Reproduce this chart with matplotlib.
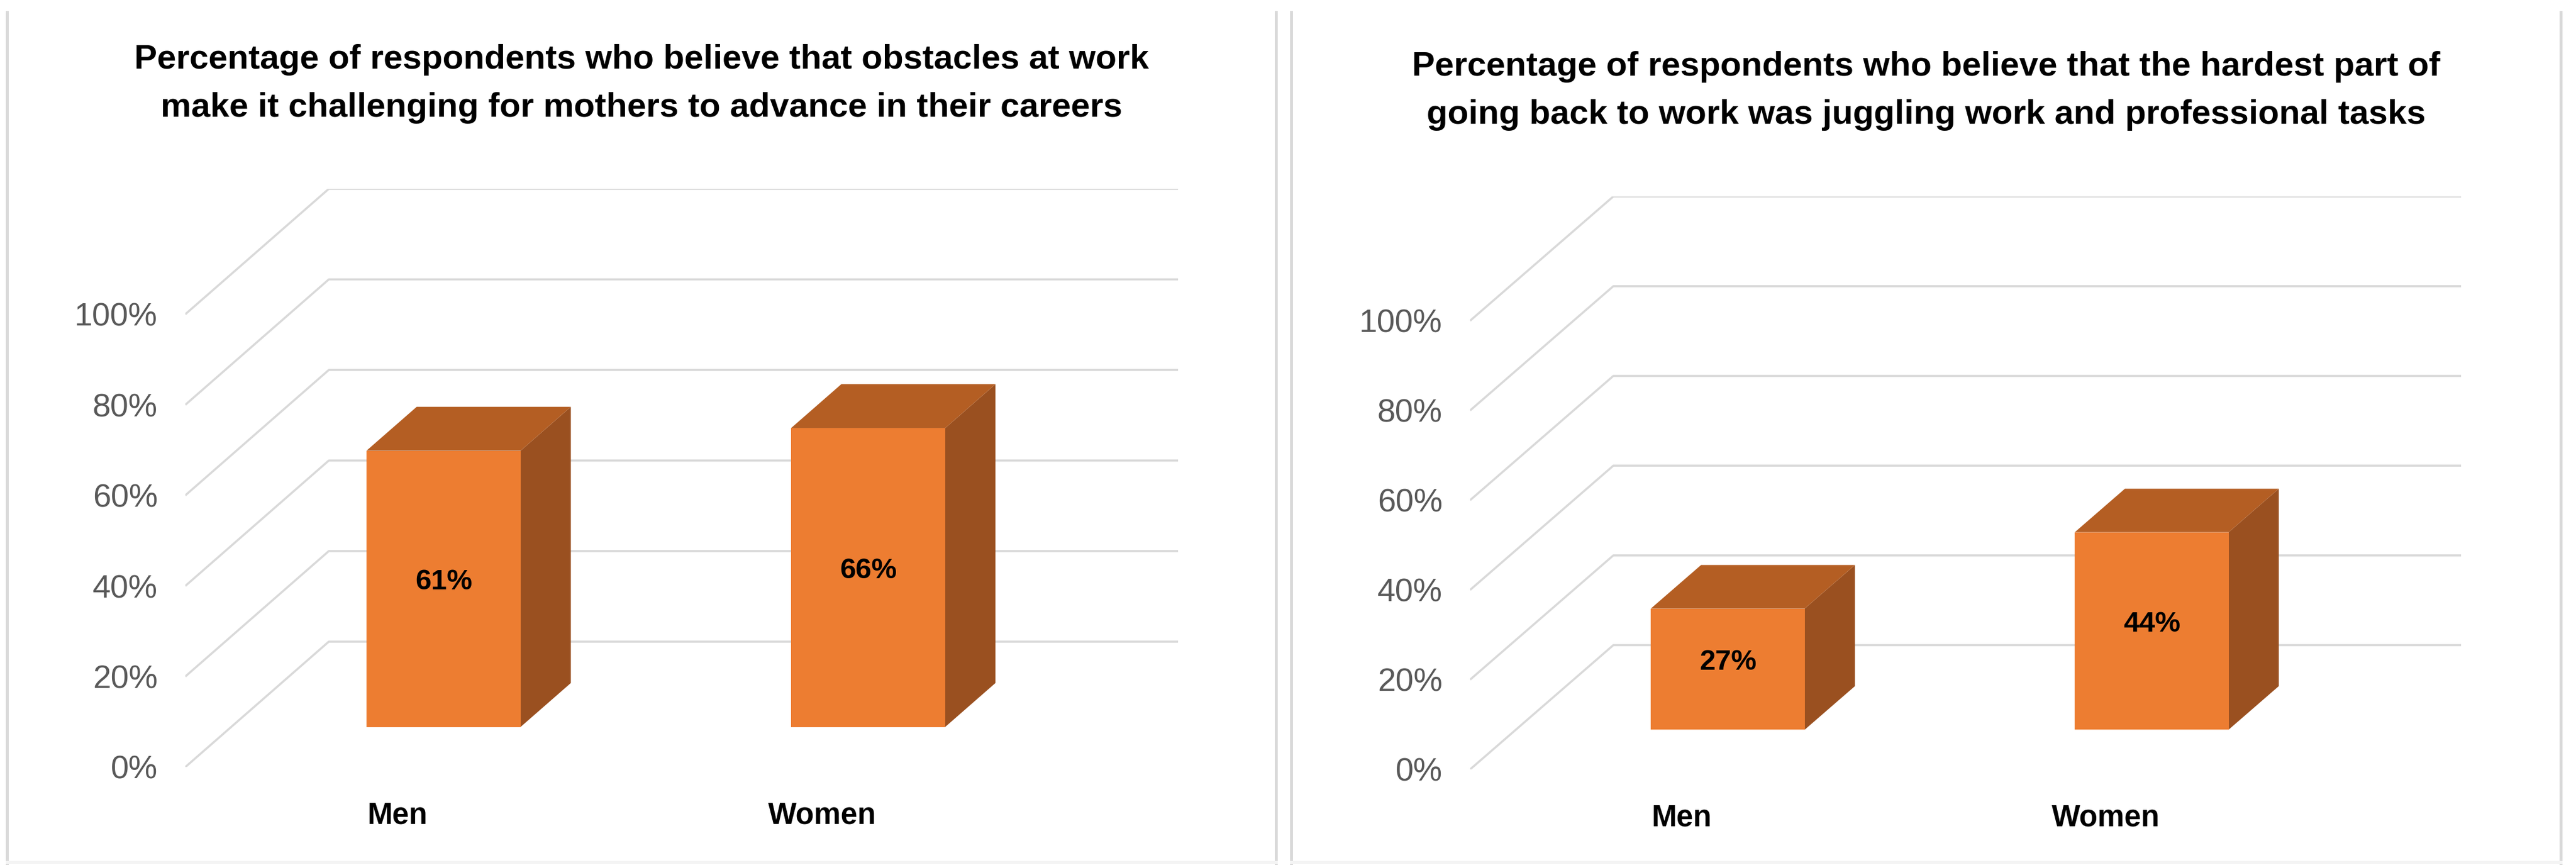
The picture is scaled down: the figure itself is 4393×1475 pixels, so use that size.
import numpy as np
import matplotlib
matplotlib.use('Agg')
import matplotlib.pyplot as plt
from matplotlib.patches import Polygon
from matplotlib.lines import Line2D

# data
categories = ['Men', 'Women']
obstacles_pct = [61, 66]
juggling_pct = [27, 44]
tick_values = [0, 20, 40, 60, 80, 100]
title_left = ('Percentage of respondents who believe that obstacles at work\n'
              'make it challenging for mothers to advance in their careers')
title_right = ('Percentage of respondents who believe that the hardest part of\n'
               'going back to work was juggling work and professional tasks')

FONT = ['Liberation Sans Narrow', 'Liberation Sans', 'DejaVu Sans']
FRONT = '#ED7D31'
TOP = '#B45E23'
SIDE = '#9A5020'
GRID = '#D9D9D9'

# pseudo-3D depth (in data units)
DX = 0.338     # category units
DY = 27.7      # percent units
D0, D1 = 0.32, 0.67   # bar depth span
BAR_W = 0.363

W, H = 4393, 1475


def draw_panel(fig, rect, values, title, title_xy):
    ax = fig.add_axes(rect)
    n = len(values)
    ax.set_xlim(-0.5, n - 0.5 + DX)
    ax.set_ylim(0, 100 + DY)
    for s in ax.spines.values():
        s.set_visible(False)

    # side-wall and back-wall gridlines
    for v in tick_values:
        ax.plot([-0.5, -0.5 + DX, n - 0.5 + DX], [v, v + DY, v + DY],
                color=GRID, lw=2.6, solid_capstyle='butt', zorder=1)

    # bars
    for i, v in enumerate(values):
        xl, xr = i - BAR_W / 2, i + BAR_W / 2
        front = [(xl + D0 * DX, D0 * DY), (xr + D0 * DX, D0 * DY),
                 (xr + D0 * DX, v + D0 * DY), (xl + D0 * DX, v + D0 * DY)]
        top = [(xl + D0 * DX, v + D0 * DY), (xr + D0 * DX, v + D0 * DY),
               (xr + D1 * DX, v + D1 * DY), (xl + D1 * DX, v + D1 * DY)]
        side = [(xr + D0 * DX, D0 * DY), (xr + D1 * DX, D1 * DY),
                (xr + D1 * DX, v + D1 * DY), (xr + D0 * DX, v + D0 * DY)]
        ax.add_patch(Polygon(side, closed=True, fc=SIDE, ec='none', zorder=3))
        ax.add_patch(Polygon(top, closed=True, fc=TOP, ec='none', zorder=3))
        ax.add_patch(Polygon(front, closed=True, fc=FRONT, ec='none', zorder=4))
        ax.text(i + D0 * DX, D0 * DY + v / 2 + 1.5, f'{v}%', ha='center', va='center',
                fontsize=35, fontweight='bold', family=FONT, color='black', zorder=5)

    ax.set_yticks(tick_values)
    ax.set_yticklabels([f'{v}%' for v in tick_values], family=FONT,
                       fontsize=40, color='#595959')
    ax.set_xticks(range(n))
    ax.set_xticklabels(categories, family=FONT, fontsize=37,
                       fontweight='bold', color='black')
    ax.tick_params(axis='y', length=0, pad=34)
    ax.tick_params(axis='x', length=0, pad=42)

    fig.text(title_xy[0] / W, 1 - title_xy[1] / H, title, ha='center', va='center',
             fontsize=42, fontweight='bold', family=FONT, color='black',
             linespacing=1.68)
    return ax


fig = plt.figure(figsize=(W / 100, H / 100), dpi=100)
fig.patch.set_facecolor('white')

# panels: axes rect in figure fractions (front plane 0% -> bottom)
draw_panel(fig, [316 / W, (H - 1308) / H, 1693 / W, 986 / H],
           obstacles_pct, title_left, (1094, 143))
draw_panel(fig, [2507 / W, (H - 1312) / H, 1690 / W, 977 / H],
           juggling_pct, title_right, (3285, 155))

# panel border lines
for xp in [12, 2176, 2202, 4367]:
    fig.add_artist(Line2D([xp / W, xp / W], [0, 1 - 21 / H],
                          transform=fig.transFigure, color=GRID, lw=3.6))
for x0, x1 in [(12, 2176), (2202, 4367)]:
    fig.add_artist(Line2D([x0 / W, x1 / W], [1 - 1470 / H, 1 - 1470 / H],
                          transform=fig.transFigure, color='#F4F4F4', lw=3.6))

fig.savefig('out.png', dpi=100, facecolor='white')
